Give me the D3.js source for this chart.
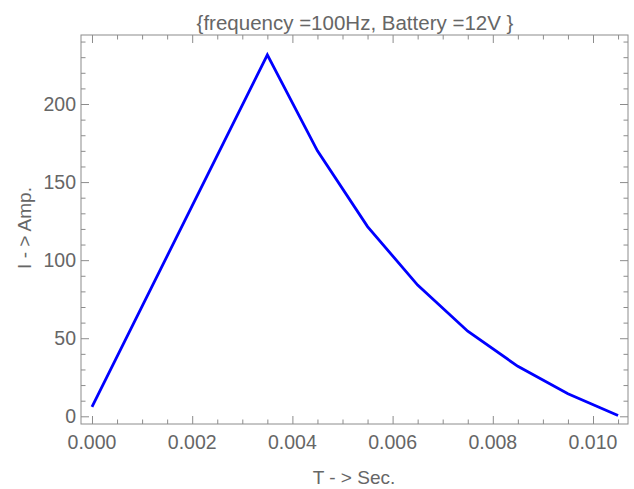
<!DOCTYPE html>
<html>
<head>
<meta charset="utf-8">
<script src="https://cdn.jsdelivr.net/npm/d3@7"></script>
<style>
  html, body { margin: 0; padding: 0; background: #fff; }
  svg { display: block; }
  text { font-family: "Liberation Sans Narrow", "Arial Narrow", "Liberation Sans", Arial, sans-serif; fill: #666; }
</style>
</head>
<body>
<svg id="chart" width="634" height="489"></svg>
<script>
const titleText = "{frequency =100Hz, Battery =12V }";
const xLabel = "T - > Sec.";
const yLabel = "I - > Amp.";
const timeValues = [0, 0.0035, 0.0045, 0.0055, 0.0065, 0.0075, 0.0085, 0.0095, 0.0105];
const currentValues = [6, 231.5, 170, 121.5, 84, 54.5, 32, 14.5, 0.5];
const xTickValues = [0, 0.002, 0.004, 0.006, 0.008, 0.010];
const xTickLabels = ["0.000", "0.002", "0.004", "0.006", "0.008", "0.010"];
const yTickValues = [0, 50, 100, 150, 200];
const yTickLabels = ["0", "50", "100", "150", "200"];

const frame = { left: 81, right: 628, top: 35, bottom: 424 };
const svg = d3.select("#chart");

const x = d3.scaleLinear().domain([-0.00021956, 0.0106986]).range([frame.left, frame.right]);
const y = d3.scaleLinear().domain([-4.93, 244.2]).range([frame.bottom, frame.top]);

const gray = "#8c8c8c";
const xMinor = d3.range(0, 0.01075, 0.0005).filter(v => !xTickValues.some(t => Math.abs(t - v) < 1e-9));
const yMinor = d3.range(0, 245, 10).filter(v => v % 50 !== 0);

// bottom axis
const gBottom = svg.append("g").attr("transform", `translate(0,${frame.bottom})`);
gBottom.call(d3.axisTop(x).tickValues(xTickValues).tickSize(8).tickFormat(() => ""));
gBottom.append("g").call(d3.axisTop(x).tickValues(xMinor).tickSize(4.5).tickFormat(() => ""));
// top axis
const gTop = svg.append("g").attr("transform", `translate(0,${frame.top})`);
gTop.call(d3.axisBottom(x).tickValues(xTickValues).tickSize(8).tickFormat(() => ""));
gTop.append("g").call(d3.axisBottom(x).tickValues(xMinor).tickSize(4.5).tickFormat(() => ""));
// left axis
const gLeft = svg.append("g").attr("transform", `translate(${frame.left},0)`);
gLeft.call(d3.axisRight(y).tickValues(yTickValues).tickSize(8).tickFormat(() => ""));
gLeft.append("g").call(d3.axisRight(y).tickValues(yMinor).tickSize(4.5).tickFormat(() => ""));
// right axis
const gRight = svg.append("g").attr("transform", `translate(${frame.right},0)`);
gRight.call(d3.axisLeft(y).tickValues(yTickValues).tickSize(8).tickFormat(() => ""));
gRight.append("g").call(d3.axisLeft(y).tickValues(yMinor).tickSize(4.5).tickFormat(() => ""));

svg.selectAll(".domain").remove();
svg.selectAll(".tick line").attr("stroke", gray).attr("stroke-width", 1);

// frame
svg.append("rect")
  .attr("x", frame.left).attr("y", frame.top)
  .attr("width", frame.right - frame.left).attr("height", frame.bottom - frame.top)
  .attr("fill", "none").attr("stroke", gray).attr("stroke-width", 1);

// tick labels
svg.append("g").selectAll("text").data(xTickValues).join("text")
  .attr("x", d => x(d)).attr("y", 449)
  .attr("text-anchor", "middle").attr("font-size", 19.5)
  .text((d, i) => xTickLabels[i]);
svg.append("g").selectAll("text").data(yTickValues).join("text")
  .attr("x", 76).attr("y", d => y(d) + 7)
  .attr("text-anchor", "end").attr("font-size", 19.5)
  .text((d, i) => yTickLabels[i]);

// line
const line = d3.line().x((d, i) => x(timeValues[i])).y(d => y(d));
svg.append("path").datum(currentValues)
  .attr("d", line)
  .attr("fill", "none").attr("stroke", "#0000ff").attr("stroke-width", 2.8)
  .attr("stroke-linejoin", "miter");

// titles
svg.append("text").attr("x", 355).attr("y", 30).attr("text-anchor", "middle")
  .attr("font-size", 20.5).text(titleText);
svg.append("text").attr("x", 354).attr("y", 484).attr("text-anchor", "middle")
  .attr("font-size", 19).text(xLabel);
svg.append("text").attr("transform", "translate(31,228) rotate(-90)").attr("text-anchor", "middle")
  .attr("font-size", 19).text(yLabel);
</script>
</body>
</html>
